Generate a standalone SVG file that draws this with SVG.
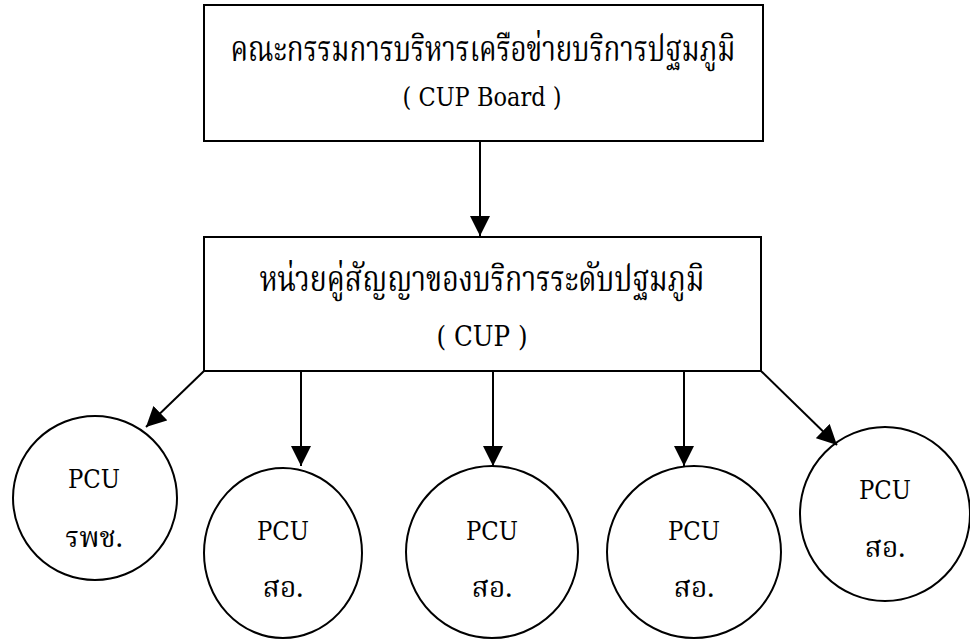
<svg xmlns="http://www.w3.org/2000/svg" width="970" height="639" viewBox="0 0 970 639">
<style>
.box{fill:#fff;stroke:#000;stroke-width:2}
.node{fill:#fff;stroke:#000;stroke-width:2}
.conn{stroke:#000;stroke-width:2;fill:none}
text{fill:#000;text-anchor:middle}
.th{font-family:"Noto Serif Thai","DejaVu Serif",serif}
.en{font-family:"DejaVu Serif",serif}
</style>
<defs>
<marker id="ah" markerUnits="userSpaceOnUse" markerWidth="20" markerHeight="20" refX="20" refY="10" orient="auto" viewBox="0 0 20 20">
<path d="M0,0 L20,10 L0,20 z" fill="#000"/>
</marker>
</defs>
<rect width="970" height="639" fill="#fff"/>
<g id="cup-board">
<rect class="box" x="204" y="5" width="559" height="136"/>
<text class="th" x="483" y="61" font-size="35" textLength="505" lengthAdjust="spacingAndGlyphs">คณะกรรมการบริหารเครือข่ายบริการปฐมภูมิ</text>
<text class="en" x="482" y="106" font-size="26" textLength="159" lengthAdjust="spacingAndGlyphs">( CUP Board )</text>
</g>
<g id="cup">
<rect class="box" x="204" y="237" width="557" height="134"/>
<text class="th" x="482" y="291" font-size="35" textLength="445" lengthAdjust="spacingAndGlyphs">หน่วยคู่สัญญาของบริการระดับปฐมภูมิ</text>
<text class="en" x="482" y="346" font-size="27" textLength="91" lengthAdjust="spacingAndGlyphs">( CUP )</text>
</g>
<g id="pcu1">
<ellipse class="node" cx="95" cy="498" rx="82" ry="82"/>
<text class="en" x="94" y="488" font-size="26" textLength="52" lengthAdjust="spacingAndGlyphs">PCU</text>
<text class="th" x="94" y="547" font-size="28">รพช.</text>
</g>
<g id="pcu2">
<ellipse class="node" cx="283" cy="553" rx="79" ry="85"/>
<text class="en" x="283" y="540" font-size="26" textLength="52" lengthAdjust="spacingAndGlyphs">PCU</text>
<text class="th" x="283" y="597" font-size="28">สอ.</text>
</g>
<g id="pcu3">
<ellipse class="node" cx="492" cy="552" rx="86" ry="86"/>
<text class="en" x="492" y="540" font-size="26" textLength="52" lengthAdjust="spacingAndGlyphs">PCU</text>
<text class="th" x="492" y="597" font-size="28">สอ.</text>
</g>
<g id="pcu4">
<ellipse class="node" cx="694" cy="552" rx="87" ry="86"/>
<text class="en" x="694" y="540" font-size="26" textLength="52" lengthAdjust="spacingAndGlyphs">PCU</text>
<text class="th" x="694" y="597" font-size="28">สอ.</text>
</g>
<g id="pcu5">
<ellipse class="node" cx="885" cy="514" rx="85" ry="87"/>
<text class="en" x="885" y="499" font-size="26" textLength="52" lengthAdjust="spacingAndGlyphs">PCU</text>
<text class="th" x="885" y="557" font-size="28">สอ.</text>
</g>
<g id="connectors">
<line class="conn" x1="480" y1="141" x2="480" y2="236" marker-end="url(#ah)"/>
<line class="conn" x1="204" y1="371" x2="146" y2="427" marker-end="url(#ah)"/>
<line class="conn" x1="301" y1="371" x2="301" y2="466" marker-end="url(#ah)"/>
<line class="conn" x1="493" y1="371" x2="493" y2="466" marker-end="url(#ah)"/>
<line class="conn" x1="684" y1="371" x2="684" y2="466" marker-end="url(#ah)"/>
<line class="conn" x1="761" y1="371" x2="837" y2="445" marker-end="url(#ah)"/>
</g>
</svg>
